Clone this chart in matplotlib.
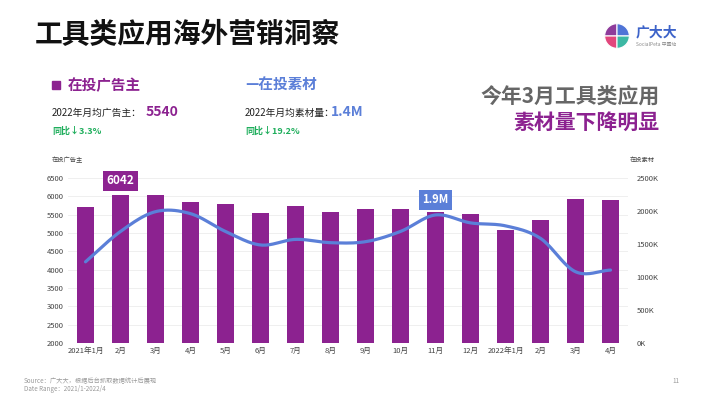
import numpy as np
import matplotlib.pyplot as plt
from matplotlib.patches import Wedge, Rectangle

plt.rcParams['font.family'] = ['Noto Sans CJK SC', 'DejaVu Sans']

months = ['2021年1月', '2月', '3月', '4月', '5月', '6月', '7月', '8月', '9月',
          '10月', '11月', '12月', '2022年1月', '2月', '3月', '4月']
advertisers = [5720, 6042, 6030, 5855, 5790, 5555, 5735, 5575, 5665,
               5645, 5580, 5520, 5075, 5345, 5935, 5890]
creatives_k = [1230, 1690, 1990, 1960, 1690, 1485, 1570, 1520, 1535,
               1690, 1940, 1820, 1775, 1585, 1080, 1105]
left_ticks = list(range(2000, 7000, 500))
right_ticks = [0, 500, 1000, 1500, 2000, 2500]

PURPLE = '#8c2290'
BLUE = '#5b7fd8'
GREEN = '#1fae5c'
GRAY = '#666666'

W, H = 710, 399
fig = plt.figure(figsize=(7.1, 3.99), dpi=100)


def fx(px):
    return px / W


def fy(py):
    return 1 - py / H


def smooth(xs, ys, n=20):
    # catmull-rom path through the points, for drawing only
    xs = np.asarray(xs, float)
    ys = np.asarray(ys, float)
    px = np.concatenate([[2 * xs[0] - xs[1]], xs, [2 * xs[-1] - xs[-2]]])
    py = np.concatenate([[2 * ys[0] - ys[1]], ys, [2 * ys[-1] - ys[-2]]])
    ox, oy = [], []
    t = np.linspace(0, 1, n, endpoint=False)
    for i in range(1, len(px) - 2):
        for arr, out in ((px, ox), (py, oy)):
            p0, p1, p2, p3 = arr[i - 1], arr[i], arr[i + 1], arr[i + 2]
            out.extend(0.5 * ((2 * p1) + (-p0 + p2) * t
                              + (2 * p0 - 5 * p1 + 4 * p2 - p3) * t ** 2
                              + (-p0 + 3 * p1 - 3 * p2 + p3) * t ** 3))
    ox.append(xs[-1])
    oy.append(ys[-1])
    return np.array(ox), np.array(oy)


# title and logo
fig.text(fx(35), fy(35), '工具类应用海外营销洞察', fontsize=20, fontweight='bold',
         color='#111111', va='center')
lax = fig.add_axes([fx(604), fy(49), fx(26), 26 / H])
lax.set_xlim(-1, 1)
lax.set_ylim(-1, 1)
lax.axis('off')
for a, c in ((90, '#8e3b9b'), (0, '#4f74d6'), (180, '#e2467c'), (270, '#3cb8a4')):
    lax.add_patch(Wedge((0, 0), 0.95, a, a + 90, color=c, ec='white', lw=0.8))
fig.text(fx(636), fy(32), '广大大', fontsize=10, fontweight='bold', color='#3d63c9', va='center')
fig.text(fx(636), fy(45), 'SocialPeta 中國站', fontsize=3.5, color='#888888', va='center')

# legend / summary blocks
fig.patches.append(Rectangle((fx(52), fy(89)), fx(8), 8 / H, transform=fig.transFigure,
                             color=PURPLE))
fig.text(fx(68), fy(85), '在投广告主', fontsize=10.5, fontweight='bold', color=PURPLE, va='center')
fig.text(fx(52), fy(113), '2022年月均广告主：', fontsize=7, color='#222222', va='center')
fig.text(fx(146), fy(112), '5540', fontsize=10, fontweight='bold', color=PURPLE, va='center')
fig.text(fx(52), fy(131), '同比↓3.3%', fontsize=6.5, fontweight='bold', color=GREEN, va='center')

fig.text(fx(245), fy(85), '—在投素材', fontsize=10.5, fontweight='bold', color=BLUE, va='center')
fig.text(fx(245), fy(113), '2022年月均素材量：', fontsize=7, color='#222222', va='center')
fig.text(fx(331), fy(112), '1.4M', fontsize=10, fontweight='bold', color=BLUE, va='center')
fig.text(fx(245), fy(131), '同比↓19.2%', fontsize=6.5, fontweight='bold', color=GREEN, va='center')

fig.text(fx(660), fy(97), '今年3月工具类应用', fontsize=15, fontweight='bold', color=GRAY,
         ha='right', va='center')
fig.text(fx(660), fy(122), '素材量下降明显', fontsize=15, fontweight='bold', color=PURPLE,
         ha='right', va='center')

# chart
ax = fig.add_axes([fx(68), fy(343), fx(628 - 68), (343 - 178) / H])
x = np.arange(len(months))
ax.bar(x, advertisers, width=0.48, color=PURPLE, zorder=2)
ax.set_xlim(-0.5, len(months) - 0.5)
ax.set_ylim(2000, 6500)
ax.set_yticks(left_ticks)
ax.set_xticks(x)
ax.set_xticklabels(months)
ax.grid(axis='y', color='#ececec', lw=0.6, zorder=0)
ax.tick_params(length=0, labelsize=5.5, labelcolor='#444444', pad=3)
for s in ax.spines.values():
    s.set_visible(False)

ax2 = ax.twinx()
sx, sy = smooth(x, creatives_k)
ax2.plot(sx, sy, color=BLUE, lw=2.3, solid_capstyle='round', zorder=3)
ax2.set_ylim(0, 2500)
ax2.set_yticks(right_ticks)
ax2.set_yticklabels([f'{v}K' for v in right_ticks])
ax2.tick_params(length=0, labelsize=5.5, labelcolor='#444444', pad=6)
for s in ax2.spines.values():
    s.set_visible(False)

fig.text(fx(52), fy(160), '在投广告主', fontsize=4.5, color='#444444', va='center')
fig.text(fx(630), fy(160), '在投素材', fontsize=4.5, color='#444444', va='center')

# highlight labels
ax.annotate(str(advertisers[1]), (1, advertisers[1]), xytext=(0, 10), textcoords='offset points',
            ha='center', va='center', fontsize=8.5, fontweight='bold', color='white',
            bbox=dict(boxstyle='square,pad=0.3', fc=PURPLE, ec='none'), zorder=5)
ax2.annotate('1.9M', (10, creatives_k[10]), xytext=(0, 11), textcoords='offset points',
             ha='center', va='center', fontsize=8, fontweight='bold', color='white',
             bbox=dict(boxstyle='square,pad=0.3', fc=BLUE, ec='none'), zorder=5)

# footer
fig.text(fx(24), fy(381), 'Source：广大大，根据后台抓取数据统计后展现', fontsize=4.5, color='#999999', va='center')
fig.text(fx(24), fy(389), 'Date Range：2021/1-2022/4', fontsize=4.5, color='#999999', va='center')
fig.text(fx(672), fy(381), '11', fontsize=4.5, color='#999999', va='center')

fig.savefig('out.png', dpi=100, facecolor='white')
